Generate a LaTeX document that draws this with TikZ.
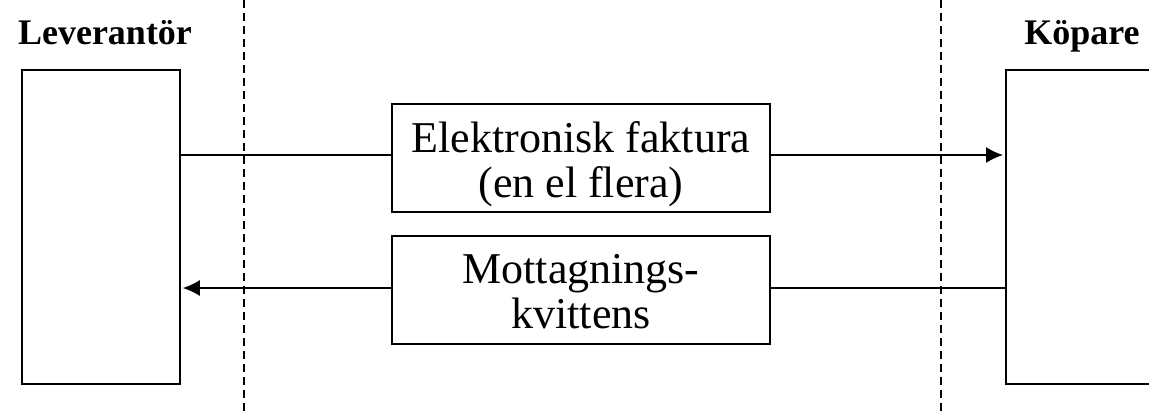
\documentclass[tikz,border=0pt]{standalone}
\usepackage{fontspec}
\setmainfont{Liberation Serif}
\usetikzlibrary{arrows.meta, positioning}

\begin{document}
\begin{tikzpicture}[x=1pt, y=-1pt, line width=1.6pt,
                    party/.style={draw, minimum width=158pt, minimum height=314pt, inner sep=0pt},
                    msg/.style={draw, minimum width=378pt, minimum height=108pt, align=center, inner sep=0pt,
                                text height=88pt, text depth=10pt, font=\fontsize{44}{45}\selectfont},
                    head/.style={anchor=base, font=\fontsize{36}{40}\selectfont\bfseries},
                    border/.style={dash pattern=on 8pt off 5pt}]
                    \useasboundingbox (0,0) rectangle (1149,415);
                    \node [party] (lev) at (101,227) {};
                    \node [party, anchor=west, minimum width=170pt] (kop) at (1005,227) {};
                    \node [head] (levtxt) at (105,44) {Leverantör};
                    \node [head] (koptxt) at (1082,44) {Köpare};
                    \node [msg] (fak) at (581,158) {Elektronisk faktura\\(en el flera)};
                    \node [msg, text height=86pt] (kvitt) at (581,290) {Mottagnings-\\kvittens};
                    \coordinate (top1) at (244,0);
                    \coordinate (bot1) at (244,415);
                    \coordinate (top2) at (941,0);
                    \coordinate (bot2) at (941,415);
                    \draw [border] (top1) -- (bot1);
                    \draw [border] (top2) -- (bot2);
                    \draw ([yshift=3pt]lev.east |- fak.west) -- ([yshift=3pt]fak.west);
                    \draw [-{Latex[length=17pt, width=16pt]}] ([yshift=3pt]fak.east) -- ([xshift=-2pt, yshift=3pt]kop.west |- fak.east);
                    \draw ([yshift=2pt]kop.west |- kvitt.east) -- ([yshift=2pt]kvitt.east);
                    \draw [-{Latex[length=17pt, width=16pt]}] ([yshift=2pt]kvitt.west) -- ([xshift=2pt, yshift=2pt]lev.east |- kvitt.west);
                \end{tikzpicture}
\end{document}
